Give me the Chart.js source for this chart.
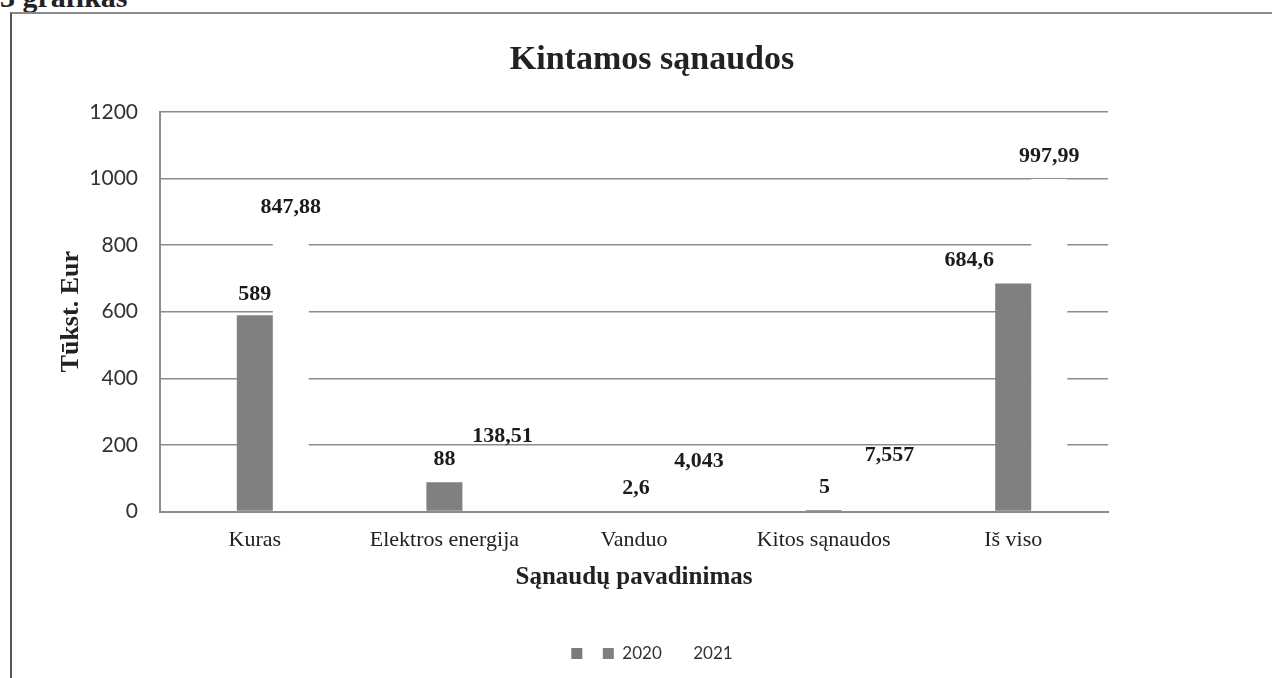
<!DOCTYPE html>
<html>
<head>
<meta charset="utf-8">
<script src="https://cdn.jsdelivr.net/npm/chart.js@4"></script>
<style>
  body { margin: 0; width: 1272px; height: 678px; overflow: hidden; background: #fff; position: relative; }
  #caption { position: absolute; left: 0px; top: -18px; font: bold 30px/30px "Liberation Serif", serif; color: #222; white-space: nowrap; }
  #frame { position: absolute; left: 10px; top: 12px; width: 1300px; height: 700px; border-top: 2px solid #8a8a8a; border-left: 2px solid #555; }
  #wrap { position: absolute; left: 11px; top: 13px; width: 1282px; height: 665px; }
</style>
</head>
<body>
<div id="caption">3 grafikas</div>
<div id="frame"></div>
<div id="wrap"><canvas id="chart"></canvas></div>
<script>
// data
const categories = ['Kuras', 'Elektros energija', 'Vanduo', 'Kitos sąnaudos', 'Iš viso'];
const values2020 = [589, 88, 2.6, 5, 684.6];
const values2021 = [847.88, 138.51, 4.043, 7.557, 997.99];
const emptySeries = [null, null, null, null, null];
const yTicks = [0, 200, 400, 600, 800, 1000, 1200];

// label nudges in px (x shift, height above bar top) - some labels were moved by hand in the original
const labelShift2020 = [[0, 15], [0, 17], [2, 17], [1, 17], [-44, 18]];
const labelShift2021 = [[0, 16], [22, 23], [29, 43], [30, 48], [0, 17]];

const serif = '"Liberation Serif", "Times New Roman", serif';
const sans = 'Lato, "Liberation Sans", sans-serif';

// draws the value labels above the bars
const barLabels = {
  id: 'barLabels',
  afterDatasetsDraw(chart) {
    const ctx = chart.ctx;
    ctx.save();
    ctx.font = 'bold 22px ' + serif;
    ctx.fillStyle = '#1b1b1b';
    ctx.textAlign = 'center';
    ctx.textBaseline = 'alphabetic';
    [[1, labelShift2020], [2, labelShift2021]].forEach(([di, shifts]) => {
      const meta = chart.getDatasetMeta(di);
      const data = chart.data.datasets[di].data;
      meta.data.forEach((bar, i) => {
        const text = String(data[i]).replace('.', ',');
        ctx.fillText(text, bar.x + shifts[i][0], bar.y - shifts[i][1]);
      });
    });
    ctx.restore();
  }
};

new Chart(document.getElementById('chart'), {
  type: 'bar',
  data: {
    labels: categories,
    datasets: [
      { label: '', data: emptySeries, backgroundColor: '#7b7b7b', borderWidth: 0 },
      { label: '2020', data: values2020, backgroundColor: '#808080', borderWidth: 0 },
      { label: '2021', data: values2021, backgroundColor: '#ffffff', borderWidth: 0 }
    ]
  },
  options: {
    responsive: true,
    maintainAspectRatio: false,
    animation: false,
    categoryPercentage: 0.57,
    barPercentage: 1.0,
    layout: { padding: { top: 0, left: 0, right: 0, bottom: 6 } },
    plugins: {
      title: {
        display: true,
        text: 'Kintamos sąnaudos',
        color: '#222',
        font: { family: serif, size: 34, weight: 'bold' },
        padding: { top: 27, bottom: 31 }
      },
      legend: {
        position: 'bottom',
        labels: {
          boxWidth: 11,
          boxHeight: 11,
          padding: 12,
          color: '#333',
          font: { family: sans, size: 17 }
        }
      },
      tooltip: { enabled: false }
    },
    scales: {
      x: {
        grid: { display: false, drawTicks: false },
        border: { display: true, color: '#8c8c8c', width: 2 },
        ticks: { padding: 15, color: '#222', font: { family: serif, size: 22 } },
        title: {
          display: true,
          text: 'Sąnaudų pavadinimas',
          color: '#222',
          font: { family: serif, size: 25, weight: 'bold' },
          padding: { top: -5, bottom: 40 }
        }
      },
      y: {
        min: 0,
        max: 1200,
        afterBuildTicks: s => { s.ticks = yTicks.map(v => ({ value: v })); },
        ticks: { padding: 22, color: '#333', font: { family: sans, size: 21 }, callback: v => String(v) },
        grid: { color: '#8c8c8c', lineWidth: 1.5, drawTicks: false },
        border: { display: true, color: '#8c8c8c', width: 2 },
        title: {
          display: true,
          text: 'Tūkst. Eur',
          color: '#222',
          font: { family: serif, size: 26, weight: 'bold' },
          padding: { top: 45, bottom: 0 }
        },
        afterFit: s => { s.width = 149; }
      },
      // empty axis, only keeps the plot area narrower than the frame
      y2: {
        type: 'linear',
        position: 'right',
        grid: { display: false, drawTicks: false },
        border: { display: false },
        ticks: { display: false },
        afterFit: s => { s.width = 185; }
      }
    }
  },
  plugins: [barLabels]
});
</script>
</body>
</html>
